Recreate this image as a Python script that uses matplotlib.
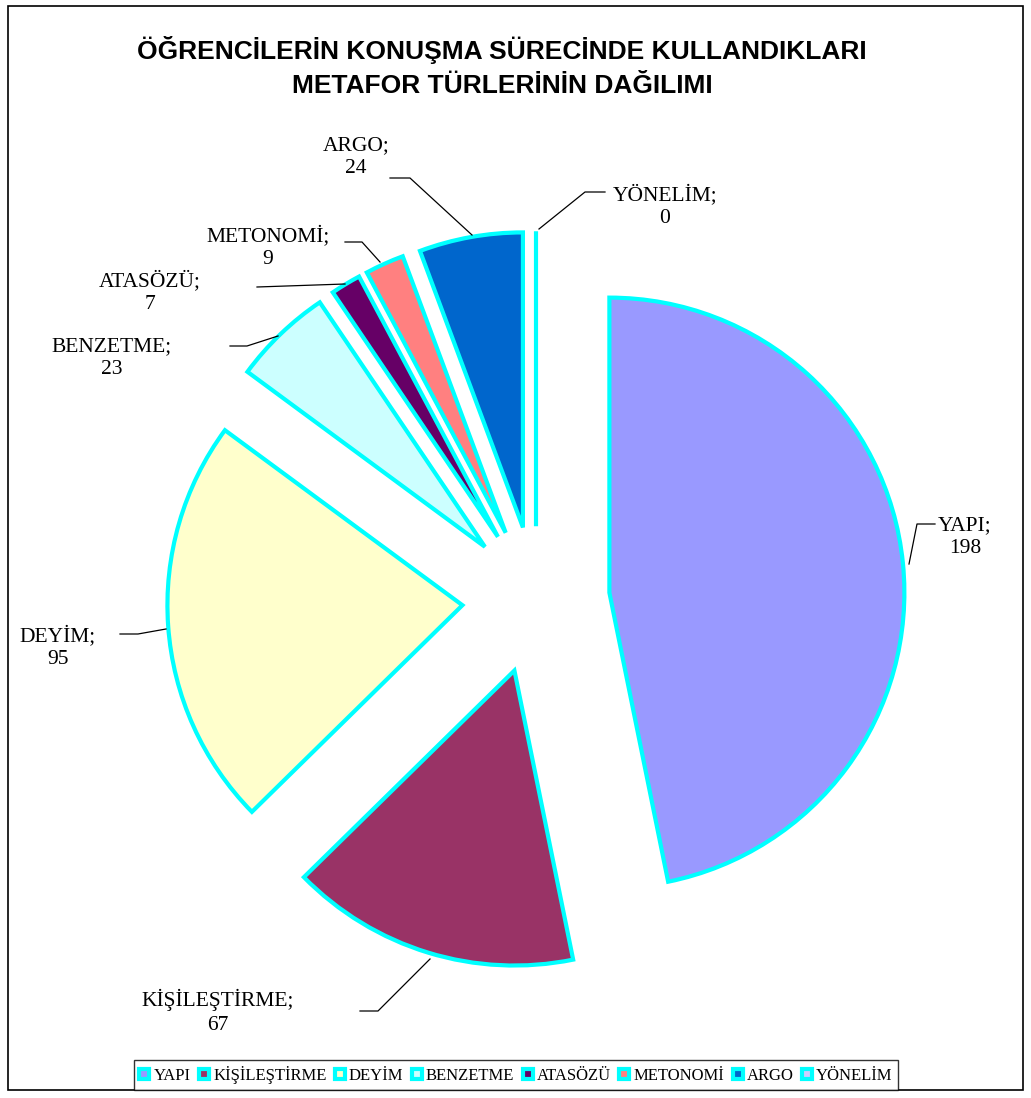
import numpy as np
import matplotlib.pyplot as plt
from matplotlib.patches import Rectangle

labels = ['YAPI', 'KİŞİLEŞTİRME', 'DEYİM', 'BENZETME', 'ATASÖZÜ', 'METONOMİ', 'ARGO', 'YÖNELİM']
values = [198, 67, 95, 23, 7, 9, 24, 0]
colors = ['#9999FF', '#993366', '#FFFFCC', '#CCFFFF', '#660066', '#FF8080', '#0066CC', '#CCCCFF']

W, H = 1031, 1098
cx, cy, R = 536, 600, 295  # pie centre / radius in pixels


def px(x, y):
    # pixel position -> data coords (pie radius = 1)
    return (x - cx) / R, (cy - y) / R


# label centre and leader-line points (pixels)
label_pos = [(965, 537), (218, 1012), (58, 647), (112, 358), (150, 292), (268, 247), (356, 157), (665, 206)]
leaders = [
    [(935, 524), (917, 524), (909, 564)],
    [(360, 1011), (378, 1011), (430, 959)],
    [(120, 634), (138, 634), (166, 629)],
    [(230, 346), (247, 346), (278, 336)],
    [(257, 287), (345, 284), (345, 284)],
    [(345, 242), (362, 242), (380, 262)],
    [(390, 178), (410, 178), (472, 235)],
    [(605, 192), (585, 192), (539, 229)],
]

fig = plt.figure(figsize=(W / 100, H / 100), dpi=100)
ax = fig.add_axes([0, 0, 1, 1])

wedges, _ = ax.pie(values, colors=colors, startangle=90, counterclock=False,
                   explode=[0.25] * len(values), radius=1,
                   wedgeprops=dict(edgecolor='#00FFFF', linewidth=3))

x0, y1 = px(0, 0)
x1, y0 = px(W, H)
ax.set_xlim(x0, x1)
ax.set_ylim(y0, y1)
ax.set_aspect('equal')
ax.axis('off')

for lab, v, pos, ln in zip(labels, values, label_pos, leaders):
    tx, ty = px(*pos)
    ax.text(tx, ty, f'{lab};\n{v}', ha='center', va='center',
            fontsize=15.5, family='Liberation Serif', linespacing=1.3)
    pts = np.array([px(*p) for p in ln])
    ax.plot(pts[:, 0], pts[:, 1], color='black', lw=0.9)

fig.text(502 / W, 1 - 67 / H,
         'ÖĞRENCİLERİN KONUŞMA SÜRECİNDE KULLANDIKLARI\nMETAFOR TÜRLERİNİN DAĞILIMI',
         ha='center', va='center', fontsize=19, fontweight='bold',
         family='Liberation Sans', linespacing=1.55)

leg = fig.legend(wedges, labels, loc='center', bbox_to_anchor=(516 / W, 1 - 1075 / H),
                 ncol=8, frameon=True, fancybox=False, edgecolor='black',
                 prop={'family': 'Liberation Serif', 'size': 12},
                 handlelength=0.6, handleheight=0.6, handletextpad=0.25,
                 columnspacing=0.5, borderpad=0.35)
leg.get_frame().set_linewidth(1.0)

fig.patches.append(Rectangle((8 / W, 8 / H), 1 - 16 / W, 1 - 14 / H,
                             transform=fig.transFigure, fill=False,
                             edgecolor='black', linewidth=1.2))

fig.savefig('out.png', dpi=100)
